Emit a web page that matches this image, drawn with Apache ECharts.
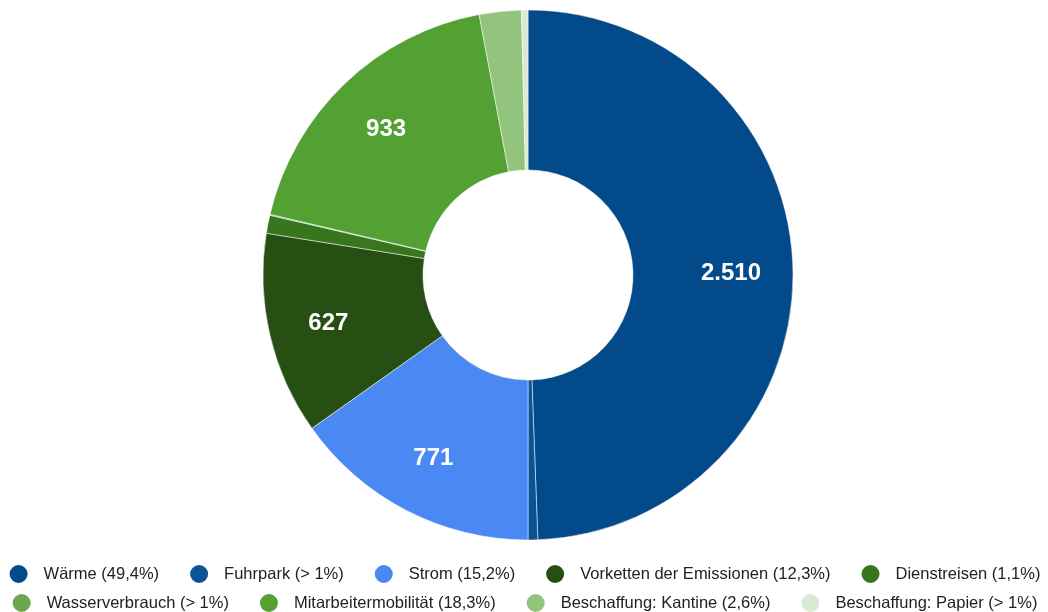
<!DOCTYPE html>
<html>
<head>
<meta charset="utf-8">
<script src="https://cdn.jsdelivr.net/npm/echarts@6/dist/echarts.min.js"></script>
<style>
  html, body { margin: 0; padding: 0; background: #fff; }
</style>
</head>
<body>
<div id="chart" style="width:1048px;height:612px"></div>
<script>
// Kategorien (im Uhrzeigersinn ab 12 Uhr)
const categories = ['Wärme', 'Fuhrpark', 'Strom', 'Vorketten der Emissionen', 'Dienstreisen',
  'Wasserverbrauch', 'Mitarbeitermobilität', 'Beschaffung: Kantine', 'Beschaffung: Papier']
// Werte (aus dem Bild abgeschätzt)
const values = [2510, 30, 771, 627, 56, 3, 933, 130, 20]
// Legenden-Anteile
const shares = ['49,4%', '> 1%', '15,2%', '12,3%', '1,1%', '> 1%', '18,3%', '2,6%', '> 1%']
const colors = ['#034a8a', '#0b5394', '#4a89f3', '#274e13', '#38761d', '#6aa84f', '#53a033', '#93c47d', '#d9ead3']

const legendRow1 = categories.slice(0, 5)
const legendRow2 = categories.slice(5)

function fmt (v) {
  return String(v).replace(/\B(?=(\d{3})+(?!\d))/g, '.')
}

const pieData = categories.map((name, i) => ({
  name: name,
  value: values[i],
  itemStyle: { color: colors[i] }
}))

const legendBase = {
  left: 'center',
  padding: 0,
  icon: 'circle',
  itemWidth: 20,
  itemHeight: 20,
  itemGap: 29,
  textStyle: {
    fontSize: 16.5,
    color: '#222',
    fontFamily: 'Liberation Sans, Arial, sans-serif',
    padding: [0, 0, 0, 10]
  },
  formatter: (name) => name + ' (' + shares[categories.indexOf(name)] + ')'
}

const myChart = echarts.init(document.getElementById('chart'))
myChart.setOption({
  animation: false,
  legend: [
    Object.assign({}, legendBase, { top: 563, data: legendRow1 }),
    Object.assign({}, legendBase, { top: 592, data: legendRow2 })
  ],
  series: [
    {
      type: 'pie',
      center: [528, 275],
      radius: [105, 265],
      startAngle: 90,
      clockwise: true,
      avoidLabelOverlap: false,
      itemStyle: { borderColor: '#fff', borderWidth: 0.5 },
      label: { show: false },
      labelLine: { show: false },
      data: pieData
    },
    {
      // nur für die Beschriftungen (etwas weiter außen)
      type: 'pie',
      center: [527, 277],
      radius: [137, 265],
      startAngle: 90,
      clockwise: true,
      silent: true,
      avoidLabelOverlap: false,
      itemStyle: { color: 'rgba(0,0,0,0)' },
      label: {
        show: true,
        position: 'inside',
        color: '#fff',
        fontWeight: 'bold',
        fontSize: 24,
        fontFamily: 'Liberation Sans, Arial, sans-serif',
        formatter: (p) => p.value > 500 ? fmt(p.value) : ''
      },
      labelLine: { show: false },
      data: categories.map((name, i) => ({ name: name, value: values[i] }))
    }
  ]
})
</script>
</body>
</html>
